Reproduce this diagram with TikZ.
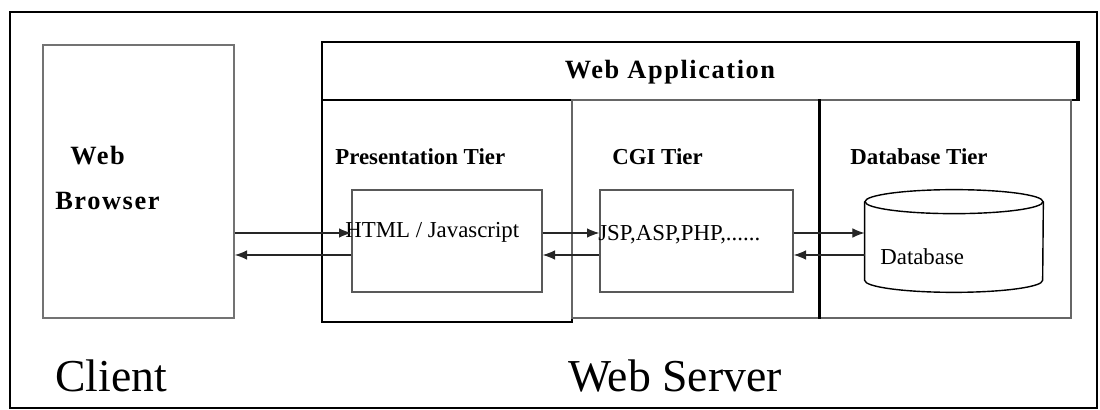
\documentclass[tikz,border=0pt]{standalone}
\usepackage{fontspec}
\setmainfont{Liberation Serif}
\usetikzlibrary{positioning,calc,arrows.meta}
\tikzset{box/.style={draw,rectangle,inner sep=0pt}}
\tikzset{flow/.style={-{Latex[length=7pt,width=5.5pt]},draw=black!85,line width=0.7pt}}
\tikzset{tier/.style={font=\fontsize{13}{15}\selectfont\bfseries,anchor=west,inner sep=0pt}}
\tikzset{code/.style={font=\fontsize{13}{15}\selectfont,anchor=west,inner sep=0pt}}
\tikzset{big/.style={font=\fontsize{26}{30}\selectfont,anchor=west,inner sep=0pt}}

\begin{document}
\begin{tikzpicture}
	\useasboundingbox (0,0) rectangle (22,8.2);
	% outer frame and the client side
	\node[box,line width=1.3pt,minimum width=21.74cm,minimum height=7.92cm] (frame) at (11.07,4) {};
	\node[box,draw=black!55,line width=0.9pt,minimum width=3.82cm,minimum height=5.46cm] (browser) at (2.77,4.57) {};
	\node[anchor=west,inner sep=0pt,align=left,font=\fontsize{15}{25.6}\selectfont\bfseries\addfontfeatures{LetterSpace=6}] (browsertxt) at (1.1,4.65) {\hspace{0.3cm}Web\\Browser};
	% web application and its tiers
	\node[box,line width=1pt,minimum width=15.1cm,minimum height=1.16cm] (app) at (13.99,6.78) {};
	\draw[line width=2pt] (app.north east) -- (app.south east);
	\node[anchor=center,inner sep=0pt,font=\fontsize{15}{18}\selectfont\bfseries\addfontfeatures{LetterSpace=6}] (apptxt) at (13.4,6.76) {Web Application};
	\node[box,line width=1.2pt,minimum width=5cm,minimum height=4.44cm] (pres) at (8.94,3.98) {};
	\node[box,draw=black!60,line width=0.8pt,minimum width=4.96cm,minimum height=4.36cm] (cgi) at (13.92,4.02) {};
	\node[box,draw=black!60,line width=0.8pt,minimum width=5.02cm,minimum height=4.36cm] (dbtier) at (18.91,4.02) {};
	\draw[line width=1.6pt] (dbtier.north west) -- (dbtier.south west);
	\node[tier] (prestxt) at (6.7,5.06) {Presentation Tier};
	\node[tier] (cgitxt) at (12.24,5.06) {CGI Tier};
	\node[tier] (dbtiertxt) at (17.0,5.06) {Database Tier};
	% inner boxes
	\node[box,draw=black!65,line width=0.8pt,fill=white,minimum width=3.8cm,minimum height=2.04cm] (html) at (8.94,3.38) {};
	\node[box,draw=black!65,line width=0.8pt,fill=white,minimum width=3.86cm,minimum height=2.04cm] (jsp) at (13.93,3.38) {};
	\node[inner sep=0pt,minimum width=3.56cm,minimum height=2.04cm] (db) at (19.08,3.38) {};
	\draw[line width=0.8pt] ($(db.north)+(0,-0.24)$) ellipse [x radius=1.78, y radius=0.24];
	\draw[line width=0.8pt] ($(db.north west)+(0,-0.24)$) -- ($(db.south west)+(0,0.24)$)
		arc[start angle=180,end angle=360,x radius=1.78,y radius=0.24] -- ($(db.north east)+(0,-0.24)$);
	\node[code] (htmltxt) at (6.9,3.56) {HTML / Javascript};
	\node[code] (jsptxt) at (11.96,3.5) {JSP,ASP,PHP,......};
	\node[code] (dbtxt) at (17.6,3.06) {Database};
	% requests and replies
	\coordinate (fwd) at (0,3.54);
	\coordinate (bwd) at (0,3.1);
	\draw[flow] (browser.east |- fwd) -- (html.west |- fwd);
	\draw[flow] (html.west |- bwd) -- (browser.east |- bwd);
	\draw[flow] (html.east |- fwd) -- (jsp.west |- fwd);
	\draw[flow] (jsp.west |- bwd) -- (html.east |- bwd);
	\draw[flow] (jsp.east |- fwd) -- (db.west |- fwd);
	\draw[flow] (db.west |- bwd) -- (jsp.east |- bwd);
	% sides
	\node[big] (client) at (1.1,0.68) {Client};
	\node[big] (server) at (11.36,0.68) {Web Server};
\end{tikzpicture}
\end{document}
